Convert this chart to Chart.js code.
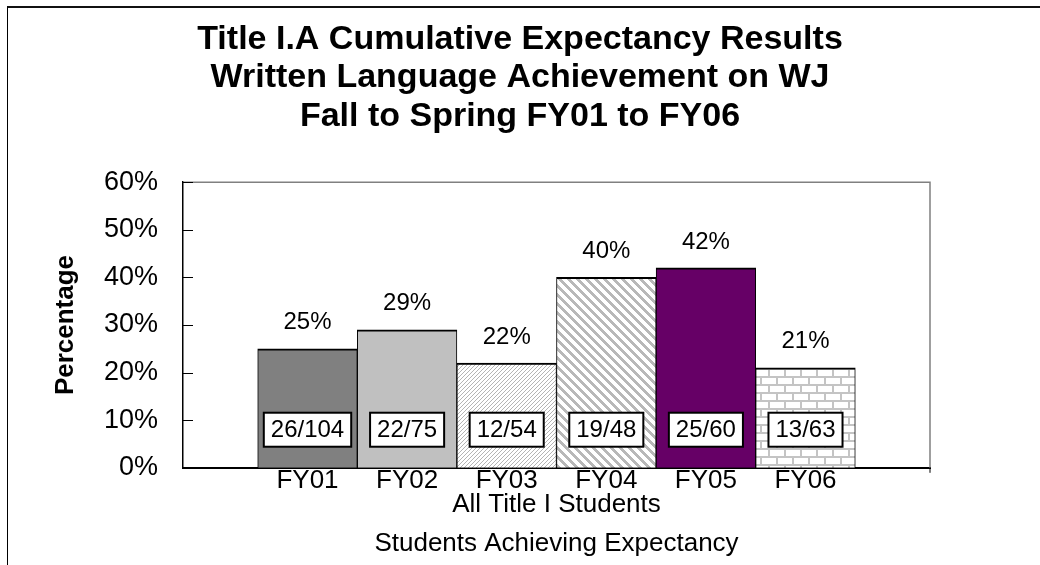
<!DOCTYPE html>
<html>
<head>
<meta charset="utf-8">
<script src="https://cdn.jsdelivr.net/npm/chart.js@4/dist/chart.umd.min.js"></script>
<style>
html, body { margin: 0; padding: 0; background: #fff; }
#wrap { position: relative; width: 1040px; height: 565px; }
#chart { position: absolute; left: 0; top: 0; }
#frame { position: absolute; left: 7px; top: 6px; right: 0; bottom: 0; border-top: 2px solid #111; border-left: 1px solid #000; pointer-events: none; }
</style>
</head>
<body>
<div id="wrap">
  <canvas id="chart" width="1040" height="565"></canvas>
  <div id="frame"></div>
</div>
<script>
const years = ['FY01', 'FY02', 'FY03', 'FY04', 'FY05', 'FY06']
const percents = [25, 29, 22, 40, 42, 21]
const counts = ['26/104', '22/75', '12/54', '19/48', '25/60', '13/63']
const group_label = 'All Title I Students'
const title_lines = ['Title I.A Cumulative Expectancy Results', 'Written Language Achievement on WJ', 'Fall to Spring FY01 to FY06']

const font_family = '"Liberation Sans", Arial, sans-serif'


// little tiles for the hatched bars
function make_pattern(w, h, draw) {
    let c = document.createElement('canvas')
    c.width = w
    c.height = h
    let g = c.getContext('2d')
    g.fillStyle = '#fff'
    g.fillRect(0, 0, w, h)
    draw(g)
    return g.createPattern(c, 'repeat')
}

let fine_hatch = make_pattern(4, 4, g => {
    g.fillStyle = '#b4b4b4'
    for (let i = 0; i < 4; i++) g.fillRect(i, 3 - i, 1, 1)
})

let wide_hatch = make_pattern(9, 9, g => {
    g.fillStyle = '#b8b8b8'
    for (let y = 0; y < 9; y++) {
        for (let k = 0; k < 4; k++) g.fillRect((y + k) % 9, y, 1, 1)
    }
})

let brick = make_pattern(16, 16, g => {
    g.fillStyle = '#c4c4c4'
    g.fillRect(0, 0, 16, 2)
    g.fillRect(0, 8, 16, 2)
    g.fillRect(0, 0, 2, 8)
    g.fillRect(8, 8, 2, 8)
})

let fills = ['#808080', '#c0c0c0', fine_hatch, wide_hatch, '#660066', brick]


// percent over each bar + boxed counts near the bottom
const bar_labels = {
    id: 'bar_labels',
    afterDatasetsDraw(chart) {
        const ctx = chart.ctx
        const meta = chart.getDatasetMeta(0)
        const y = chart.scales.y
        ctx.save()
        ctx.font = '24px ' + font_family
        ctx.textAlign = 'center'
        ctx.textBaseline = 'middle'
        meta.data.forEach((bar, i) => {
            ctx.fillStyle = '#000'
            ctx.fillText(percents[i] + '%', bar.x, bar.y - 26)

            let w = ctx.measureText(counts[i]).width + 14
            let h = 34
            let cy = y.getPixelForValue(8)
            ctx.fillStyle = '#fff'
            ctx.fillRect(bar.x - w / 2, cy - h / 2, w, h)
            ctx.lineWidth = 2
            ctx.strokeStyle = '#000'
            ctx.strokeRect(bar.x - w / 2, cy - h / 2, w, h)
            ctx.fillStyle = '#000'
            ctx.fillText(counts[i], bar.x, cy + 1)
        })
        ctx.restore()
    }
}

// gray frame on top/right of the plot and inward ticks on the y axis
const plot_frame = {
    id: 'plot_frame',
    afterDraw(chart) {
        const ctx = chart.ctx
        const a = chart.chartArea
        const y = chart.scales.y
        ctx.save()
        ctx.strokeStyle = '#808080'
        ctx.lineWidth = 1.5
        ctx.beginPath()
        ctx.moveTo(a.left, a.top)
        ctx.lineTo(a.right, a.top)
        ctx.lineTo(a.right, a.bottom)
        ctx.stroke()

        ctx.strokeStyle = '#000'
        ctx.lineWidth = 1
        y.ticks.forEach(t => {
            let py = Math.round(y.getPixelForValue(t.value)) + 0.5
            ctx.beginPath()
            ctx.moveTo(a.left, py)
            ctx.lineTo(a.left + 10, py)
            ctx.stroke()
        })
        ctx.beginPath()
        ctx.moveTo(a.right, a.bottom)
        ctx.lineTo(a.right, a.bottom + 5)
        ctx.stroke()
        ctx.restore()
    }
}


let ctx = document.getElementById('chart')

let data = {
    datasets: [{
        label: 'Students Achieving Expectancy',
        data: percents.map((v, i) => ({ x: i + 1, y: v })),
        backgroundColor: fills,
        borderColor: '#000',
        borderWidth: { top: 2, left: 1, right: 1, bottom: 0 },
        categoryPercentage: 1,
        barPercentage: 1,
    }]
}

let options = {
    responsive: false,
    animation: false,
    devicePixelRatio: 1,
    layout: { padding: 0 },
    plugins: {
        legend: { display: false },
        tooltip: { enabled: false },
        title: {
            display: true,
            text: title_lines,
            color: '#000',
            font: { family: font_family, size: 34, weight: 'bold', lineHeight: 1.12 },
            padding: { top: 21, bottom: 47 }
        },
        subtitle: {
            display: true,
            fullSize: false,
            position: 'bottom',
            text: 'Students Achieving Expectancy',
            color: '#000',
            font: { family: font_family, size: 26, lineHeight: 1.2 },
            padding: { top: 0, bottom: 6 }
        }
    },
    scales: {
        x: {
            type: 'linear',
            offset: false,
            min: -0.25,
            max: 7.25,
            grid: { display: false },
            border: { display: true, color: '#000', width: 2 },
            afterBuildTicks: s => { s.ticks = years.map((_, i) => ({ value: i + 1 })) },
            afterFit: s => { s.height = 60 },
            ticks: {
                color: '#000',
                padding: -8,
                maxRotation: 0,
                autoSkip: false,
                font: { family: font_family, size: 26, lineHeight: 1.0 },
                callback: (value, index) => years[index]
            },
            title: {
                display: true,
                text: group_label,
                color: '#000',
                font: { family: font_family, size: 26, lineHeight: 1.1 },
                padding: { top: 0, bottom: 9 }
            }
        },
        y: {
            min: 0,
            max: 60,
            grid: { display: false },
            border: { display: true, color: '#000', width: 1.5 },
            afterFit: s => { s.width = 183 },
            ticks: {
                stepSize: 10,
                color: '#000',
                padding: 17,
                font: { family: font_family, size: 27 },
                callback: v => v + '%'
            },
            title: {
                display: true,
                text: 'Percentage',
                color: '#000',
                font: { family: font_family, size: 26, weight: 'bold', lineHeight: 1.1 },
                padding: { top: 52, bottom: 0 }
            }
        },
        // empty right-hand strip so the plot stops at the same place as the original
        y_right: {
            position: 'right',
            grid: { display: false },
            border: { display: false },
            ticks: { display: false },
            afterFit: s => { s.width = 110 }
        }
    }
}

let my_chart = new Chart(ctx, {
    type: 'bar',
    data: data,
    options: options,
    plugins: [bar_labels, plot_frame]
})
</script>
</body>
</html>
